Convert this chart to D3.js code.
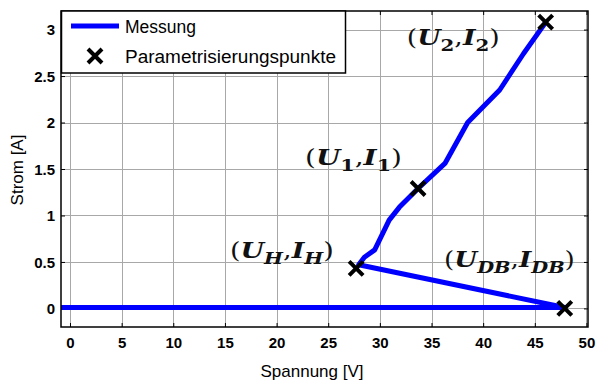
<!DOCTYPE html>
<html><head><meta charset="utf-8">
<script src="https://cdn.jsdelivr.net/npm/d3@7"></script>
<style>body{margin:0;background:#fff}svg{display:block}</style>
</head><body>
<svg id="c" width="597" height="383"></svg>
<script>
// ---- data ----
const messungU = [-1, 47.9, 27.95, 28.5, 29.5, 30.9, 31.9, 33.7, 36.3, 38.5, 41.6, 43.9, 46.0];
const messungI = [0.01, 0.01, 0.47, 0.55, 0.63, 0.95, 1.09, 1.29, 1.56, 2.0, 2.35, 2.74, 3.07];
const paramU = [27.7, 33.7, 46.05, 47.9];
const paramI = [0.43, 1.29, 3.08, 0.0];
const xTicks = [0, 5, 10, 15, 20, 25, 30, 35, 40, 45, 50];
const yTicks = [0, 0.5, 1, 1.5, 2, 2.5, 3];
const yTickLabels = ["0", "0.5", "1", "1.5", "2", "2.5", "3"];
const seriesNames = ["Messung", "Parametrisierungspunkte"];
const xLabel = "Spannung [V]";
const yLabel = "Strom [A]";
// annotation labels: main letter, subscript, anchor in data units
const annLetterA = ["U", "U", "U", "U"];
const annSub = ["H", "1", "2", "DB"];
const annLetterB = ["I", "I", "I", "I"];
const annU = [25.55, 22.75, 32.6, 36.2];
const annI = [0.542, 1.543, 2.834, 0.449];
const annAnchor = ["end", "start", "start", "start"];
const annWidth = [104, 97, 93, 131];

// ---- layout ----
const svg = d3.select("#c");
const L = 61, R = 588, T = 11, B = 327;
const x = d3.scaleLinear().domain([-0.87, 50.15]).range([L, R]);
const y = d3.scaleLinear().domain([-0.2, 3.2]).range([B, T]);

// grid
const grid = svg.append("g").attr("stroke", "#a8a8a8").attr("stroke-width", 1);
grid.selectAll(".gx").data(xTicks).join("line")
  .attr("x1", d => Math.round(x(d)) + 0.5).attr("x2", d => Math.round(x(d)) + 0.5)
  .attr("y1", T).attr("y2", B);
grid.selectAll(".gy").data(yTicks).join("line")
  .attr("y1", d => Math.round(y(d)) + 0.5).attr("y2", d => Math.round(y(d)) + 0.5)
  .attr("x1", L).attr("x2", R);

// axes with inward ticks
const tickFont = "bold 15px 'Liberation Sans', Arial, sans-serif";
const ax = d3.axisBottom(x).tickValues(xTicks).tickSizeInner(-4).tickSizeOuter(0).tickPadding(10).tickFormat(d3.format("d"));
const gxA = svg.append("g").attr("transform", `translate(0,${B})`).call(ax);
const ay = d3.axisLeft(y).tickValues(yTicks).tickSizeInner(-4).tickSizeOuter(0).tickPadding(6)
  .tickFormat((d, i) => yTickLabels[i]);
const gyA = svg.append("g").attr("transform", `translate(${L},0)`).call(ay);
const axT = d3.axisTop(x).tickValues(xTicks).tickSizeInner(-4).tickSizeOuter(0).tickFormat("");
const gtA = svg.append("g").attr("transform", `translate(0,${T})`).call(axT);
const ayR = d3.axisRight(y).tickValues(yTicks).tickSizeInner(-4).tickSizeOuter(0).tickFormat("");
const grA = svg.append("g").attr("transform", `translate(${R},0)`).call(ayR);
[gxA, gyA, gtA, grA].forEach(g => {
  g.select(".domain").remove();
  g.selectAll(".tick line").attr("stroke", "#000");
  g.selectAll("text").style("font", tickFont).attr("fill", "#000");
});
gyA.selectAll("text").attr("dy", "0.35em");

// clip
svg.append("clipPath").attr("id", "clip").append("rect")
  .attr("x", L).attr("y", T).attr("width", R - L).attr("height", B - T);

// measurement line
const pts = messungU.map((u, i) => [u, messungI[i]]);
svg.append("path").attr("clip-path", "url(#clip)")
  .attr("d", d3.line().x(d => x(d[0])).y(d => y(d[1]))(pts))
  .attr("fill", "none").attr("stroke", "#0000ff").attr("stroke-width", 5)
  .attr("stroke-linejoin", "round");

// markers
const xMark = "M-7,-7L7,7M-7,7L7,-7";
svg.append("g").selectAll("path").data(paramU.map((u, i) => [u, paramI[i]])).join("path")
  .attr("transform", d => `translate(${x(d[0])},${y(d[1])})`)
  .attr("d", xMark).attr("stroke", "#000").attr("stroke-width", 4).attr("fill", "none");

// annotations
const ann = svg.append("g");
annU.forEach((u, i) => {
  const t = ann.append("text")
    .attr("x", x(u)).attr("y", y(annI[i]))
    .attr("text-anchor", annAnchor[i])
    .attr("textLength", annWidth[i]).attr("lengthAdjust", "spacingAndGlyphs")
    .style("font-family", "'DejaVu Serif', 'Liberation Serif', serif")
    .style("font-size", "23px").attr("fill", "#111");
  t.append("tspan").text("(");
  t.append("tspan").attr("font-weight", "bold").attr("font-style", "italic").text(annLetterA[i]);
  t.append("tspan").attr("font-weight", "bold").attr("font-style", /\d/.test(annSub[i]) ? "normal" : "italic")
    .attr("font-size", "17px").attr("dy", 6).text(annSub[i]);
  t.append("tspan").attr("dy", -6).text(",");
  t.append("tspan").attr("font-weight", "bold").attr("font-style", "italic").text(annLetterB[i]);
  t.append("tspan").attr("font-weight", "bold").attr("font-style", /\d/.test(annSub[i]) ? "normal" : "italic")
    .attr("font-size", "17px").attr("dy", 6).text(annSub[i]);
  t.append("tspan").attr("dy", -6).text(")");
});

// frame
svg.append("rect").attr("x", L).attr("y", T).attr("width", R - L).attr("height", B - T)
  .attr("fill", "none").attr("stroke", "#000").attr("stroke-width", 1.5);

// legend
const lg = svg.append("g");
lg.append("rect").attr("x", L + 0.5).attr("y", T).attr("width", 284).attr("height", 62)
  .attr("fill", "#fff").attr("stroke", "#000").attr("stroke-width", 1.5);
lg.append("line").attr("x1", 71).attr("x2", 119).attr("y1", 26).attr("y2", 26)
  .attr("stroke", "#0000ff").attr("stroke-width", 5);
lg.append("path").attr("transform", "translate(95,56)").attr("d", xMark)
  .attr("stroke", "#000").attr("stroke-width", 4).attr("fill", "none");
const legFont = "17.5px 'Liberation Sans', Arial, sans-serif";
lg.append("text").attr("x", 125).attr("y", 33).style("font", legFont).text(seriesNames[0]);
lg.append("text").attr("x", 125).attr("y", 63).style("font", legFont)
  .attr("textLength", 211).attr("lengthAdjust", "spacingAndGlyphs").text(seriesNames[1]);

// axis labels
const labFont = "17px 'Liberation Sans', Arial, sans-serif";
svg.append("text").attr("x", 312).attr("y", 377).attr("text-anchor", "middle").style("font", labFont).text(xLabel);
svg.append("text").attr("transform", "translate(23,170) rotate(-90)").attr("text-anchor", "middle").style("font", labFont).text(yLabel);
</script>
</body></html>
